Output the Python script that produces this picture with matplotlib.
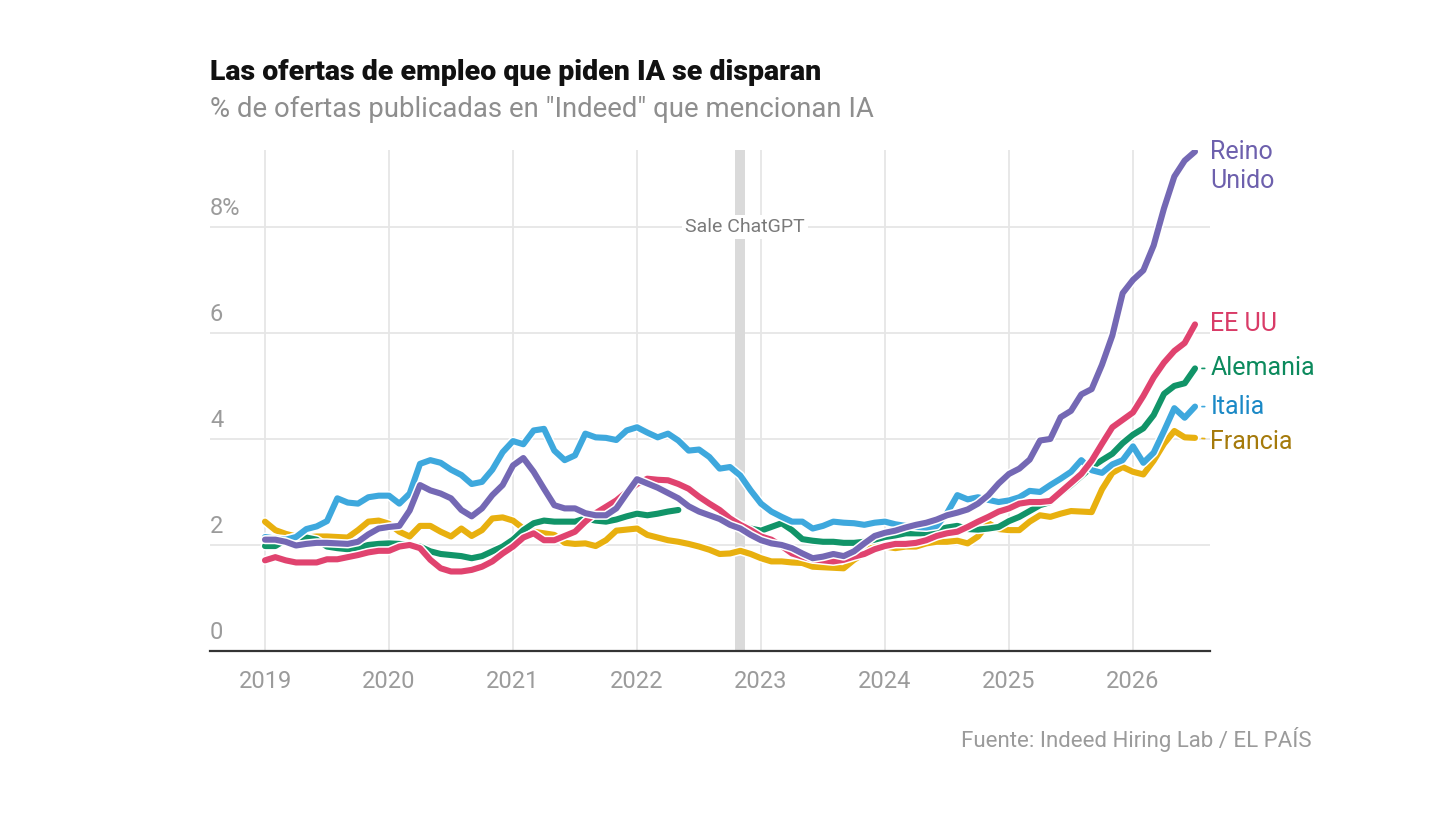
import numpy as np
import matplotlib
matplotlib.use("Agg")
import matplotlib.pyplot as plt
import matplotlib.patheffects as pe
import matplotlib.transforms as mtransforms

plt.rcParams['font.family'] = ['Roboto', 'DejaVu Sans']

# monthly data, Jan 2019 .. Jul 2026
months = 2019 + np.arange(91) / 12.0

reino_unido = [2.1, 2.1, 2.06, 1.99, 2.02, 2.04, 2.04, 2.03, 2.02, 2.06, 2.2, 2.31, 2.34, 2.36, 2.65, 3.13,
               3.03, 2.97, 2.88, 2.66, 2.54, 2.69, 2.94, 3.13, 3.5, 3.64, 3.38, 3.06, 2.75, 2.69, 2.69, 2.6,
               2.56, 2.56, 2.69, 2.97, 3.24, 3.16, 3.08, 2.98, 2.88, 2.73, 2.63, 2.56, 2.49, 2.38, 2.31, 2.19,
               2.09, 2.03, 2.0, 1.94, 1.84, 1.75, 1.78, 1.83, 1.79, 1.88, 2.03, 2.17, 2.23, 2.27, 2.33, 2.38,
               2.42, 2.48, 2.56, 2.61, 2.67, 2.78, 2.94, 3.16, 3.34, 3.44, 3.61, 3.97, 4.0, 4.41, 4.53, 4.84,
               4.94, 5.4, 5.95, 6.75, 7.0, 7.18, 7.65, 8.35, 8.95, 9.25, 9.42]

ee_uu = [1.71, 1.77, 1.71, 1.67, 1.67, 1.67, 1.73, 1.73, 1.77, 1.81, 1.86, 1.89, 1.89, 1.97, 2.0, 1.94,
         1.72, 1.56, 1.5, 1.5, 1.53, 1.59, 1.69, 1.84, 1.97, 2.14, 2.22, 2.09, 2.09, 2.17, 2.25, 2.44,
         2.6, 2.72, 2.84, 3.0, 3.15, 3.25, 3.23, 3.22, 3.15, 3.06, 2.91, 2.78, 2.66, 2.5, 2.38, 2.28,
         2.16, 2.1, 1.98, 1.84, 1.78, 1.73, 1.71, 1.69, 1.72, 1.78, 1.83, 1.92, 1.98, 2.02, 2.02, 2.04,
         2.09, 2.17, 2.22, 2.25, 2.34, 2.44, 2.53, 2.63, 2.69, 2.78, 2.81, 2.81, 2.83, 3.0, 3.17, 3.34,
         3.59, 3.91, 4.22, 4.36, 4.5, 4.81, 5.16, 5.44, 5.66, 5.81, 6.16]

alemania = [1.98, 1.98, 2.1, 2.15, 2.14, 2.1, 1.97, 1.94, 1.92, 1.95, 2.0, 2.02, 2.03, 2.02, 2.0, 1.97,
            1.88, 1.83, 1.81, 1.79, 1.75, 1.79, 1.88, 1.97, 2.1, 2.28, 2.41, 2.46, 2.44, 2.44, 2.44, 2.5,
            2.46, 2.44, 2.48, 2.54, 2.59, 2.56, 2.59, 2.63, 2.66, np.nan, np.nan, np.nan, np.nan, np.nan, 2.38, 2.31,
            2.27, 2.34, 2.41, 2.28, 2.11, 2.08, 2.06, 2.06, 2.04, 2.04, 2.06, 2.1, 2.15, 2.18, 2.22, 2.22,
            2.22, 2.28, 2.33, 2.36, 2.3, 2.29, 2.31, 2.34, 2.45, 2.53, 2.64, 2.75, 2.81, 2.98, 3.13, 3.3,
            3.47, 3.6, 3.72, 3.92, 4.08, 4.2, 4.45, 4.85, 5.0, 5.05, 5.33]

italia = [2.15, 2.12, 2.1, 2.15, 2.3, 2.35, 2.45, 2.88, 2.8, 2.78, 2.9, 2.93, 2.93, 2.78, 2.97, 3.53,
          3.6, 3.55, 3.42, 3.32, 3.15, 3.19, 3.42, 3.75, 3.96, 3.9, 4.16, 4.19, 3.78, 3.6, 3.69, 4.1,
          4.03, 4.02, 3.98, 4.16, 4.22, 4.12, 4.03, 4.1, 3.97, 3.78, 3.8, 3.66, 3.44, 3.47, 3.31, 3.03,
          2.78, 2.63, 2.53, 2.44, 2.44, 2.31, 2.36, 2.44, 2.42, 2.41, 2.38, 2.42, 2.44, 2.39, 2.36, 2.34,
          2.33, 2.36, 2.6, 2.94, 2.86, 2.9, 2.85, 2.81, 2.84, 2.9, 3.02, 3.0, 3.13, 3.25, 3.38, 3.6,
          3.41, 3.36, 3.52, 3.6, 3.86, 3.55, 3.74, 4.15, 4.58, 4.4, 4.61]

francia = [2.44, 2.28, 2.21, 2.16, 2.14, 2.16, 2.16, 2.15, 2.14, 2.28, 2.44, 2.46, 2.4, 2.25, 2.16, 2.36,
           2.36, 2.25, 2.16, 2.31, 2.17, 2.28, 2.5, 2.52, 2.46, 2.31, 2.25, 2.22, 2.19, 2.04, 2.02, 2.03,
           1.98, 2.09, 2.27, 2.29, 2.31, 2.19, 2.14, 2.09, 2.06, 2.02, 1.97, 1.91, 1.83, 1.84, 1.89, 1.83,
           1.75, 1.69, 1.69, 1.67, 1.66, 1.59, 1.58, 1.57, 1.56, 1.72, 1.84, 2.0, 1.97, 1.94, 1.97, 1.97,
           2.03, 2.06, 2.06, 2.08, 2.03, 2.16, 2.41, 2.3, 2.28, 2.28, 2.44, 2.56, 2.53, 2.59, 2.64, 2.63,
           2.62, 3.05, 3.36, 3.47, 3.38, 3.33, 3.59, 3.91, 4.15, 4.03, 4.02]

# drawing order: bottom first
series = [
    ("Francia", francia, "#e8b00f", "#a57a0b"),
    ("Alemania", alemania, "#119468", "#0c8a5d"),
    ("Italia", italia, "#3ea8dd", "#1b89c6"),
    ("EE UU", ee_uu, "#e0436f", "#d93b67"),
    ("Reino\nUnido", reino_unido, "#7468b4", "#6d60ad"),
]

year_ticks = list(range(2019, 2027))
y_ticks = [0, 2, 4, 6, 8]
y_labels = ["0", "2", "4", "6", "8%"]
chatgpt_date = 2022.83

fig = plt.figure(figsize=(14.56, 8.19), dpi=100)
ax = fig.add_axes([210 / 1456, 1 - 651 / 819, 1000 / 1456, 501 / 819])

ax.set_xlim(2019 - 55 / 124, 2026 + 77 / 124)
ax.set_ylim(0, 9.45)

for s in ["top", "right", "left"]:
    ax.spines[s].set_visible(False)
ax.spines["bottom"].set_color("#333333")
ax.spines["bottom"].set_linewidth(1.6)

ax.set_xticks(year_ticks)
ax.set_xticklabels([str(y) for y in year_ticks], fontsize=17, color="#9b9b9b")
ax.set_yticks(y_ticks)
ax.set_yticklabels([])
ax.tick_params(axis="both", length=0)
ax.tick_params(axis="x", pad=14)
ax.grid(True, color="#e6e6e6", linewidth=1.3)
ax.set_axisbelow(True)

# y labels sit above the gridlines, at the left edge
trans = mtransforms.blended_transform_factory(ax.transAxes, ax.transData)
for v, lab in zip(y_ticks, y_labels):
    ax.annotate(lab, xy=(0, v), xycoords=trans, xytext=(0, 5), textcoords="offset points",
                ha="left", va="bottom", fontsize=17, color="#9b9b9b")

# ChatGPT launch
ax.axvspan(chatgpt_date - 0.04, chatgpt_date + 0.04, color="#dadada", lw=0, zorder=1)
ax.text(chatgpt_date + 0.04, 8, "Sale ChatGPT", ha="center", va="center", fontsize=14,
        color="#7a7a7a", zorder=3,
        bbox=dict(boxstyle="square,pad=0.15", facecolor="white", edgecolor="none"))

for name, vals, col, tcol in series:
    vals = np.array(vals, dtype=float)
    ax.plot(months, vals, color=col, lw=4.4, solid_capstyle="round", solid_joinstyle="round",
            zorder=4, path_effects=[pe.Stroke(linewidth=6.6, foreground="white"), pe.Normal()])
    end_y = vals[-1]
    if name.startswith("Reino"):
        ax.annotate(name, xy=(months[-1], end_y), xytext=(11, 8), textcoords="offset points",
                    ha="left", va="top", fontsize=18, color=tcol, linespacing=1.25,
                    annotation_clip=False)
    elif name == "EE UU":
        ax.annotate(name, xy=(months[-1], end_y), xytext=(11, 0), textcoords="offset points",
                    ha="left", va="center", fontsize=18, color=tcol, annotation_clip=False)
    else:
        off = -3 if name == "Francia" else 0
        ax.annotate(name, xy=(months[-1], end_y), xytext=(11, off), textcoords="offset points",
                    ha="left", va="center", fontsize=18, color=tcol, annotation_clip=False,
                    arrowprops=dict(arrowstyle="-", color=col, lw=1.2, shrinkA=2, shrinkB=5))

fig.text(210 / 1456, 1 - 80 / 819, "Las ofertas de empleo que piden IA se disparan",
         fontsize=20.5, fontweight="black", color="#111111", ha="left", va="baseline")
fig.text(210 / 1456, 1 - 117 / 819, "% de ofertas publicadas en \"Indeed\" que mencionan IA",
         fontsize=19.8, color="#8e8e8e", ha="left", va="baseline")
fig.text(1312 / 1456, 1 - 747 / 819, "Fuente: Indeed Hiring Lab / EL PAÍS",
         fontsize=16, color="#9b9b9b", ha="right", va="baseline")

fig.savefig("out.png", dpi=100, facecolor="white")
